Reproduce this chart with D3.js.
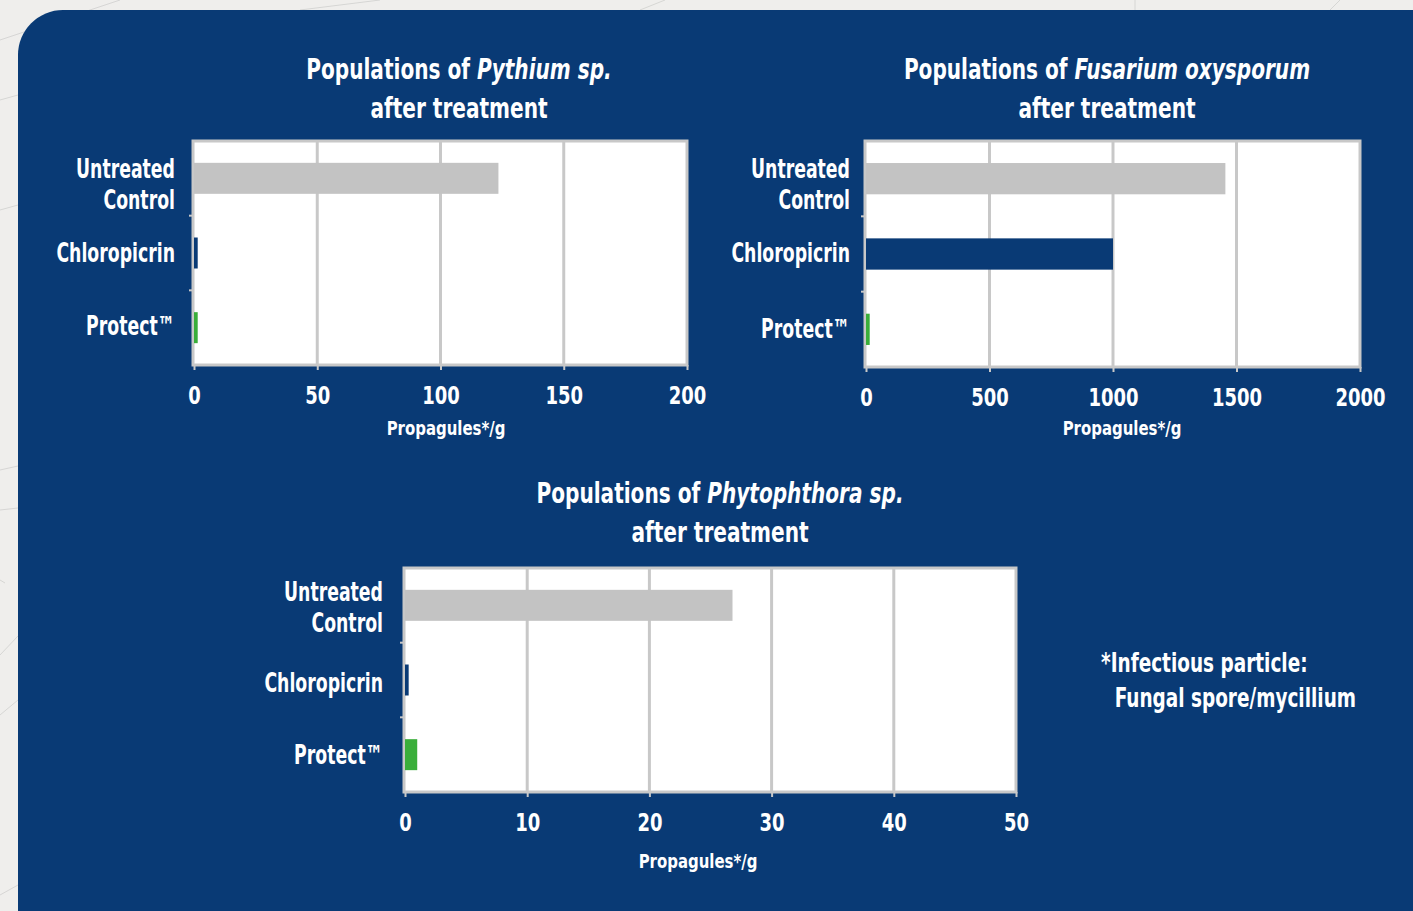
<!DOCTYPE html>
<html>
<head>
<meta charset="utf-8">
<script src="https://cdn.jsdelivr.net/npm/d3@7"></script>
<style>
  html, body { margin: 0; padding: 0; background: #efeeec; }
  svg { display: block; }
  text { font-family: "DejaVu Sans Condensed", "DejaVu Sans", sans-serif; font-weight: bold; fill: #fff; }
</style>
</head>
<body>
<svg id="chart" width="1413" height="911"></svg>
<script>
// categories (same for all three charts)
const categories = ["Untreated Control", "Chloropicrin", "Protect™"];
const categoryLines = [["Untreated", "Control"], ["Chloropicrin"], ["Protect™"]];
const barColors = ["#c3c3c3", "#093a75", "#3aae3a"];

// propagules per gram
const pythiumValues = [123.5, 1.5, 1.5];
const fusariumValues = [1455, 1000, 15];
const phytophthoraValues = [26.8, 0.3, 1.0];

// tick labels
const pythiumTicks = [0, 50, 100, 150, 200];
const fusariumTicks = [0, 500, 1000, 1500, 2000];
const phytophthoraTicks = [0, 10, 20, 30, 40, 50];

const svg = d3.select("#chart");
const blue = "#093a75";
const grid = "#c8c8c8";

// faint decorative lines on the grey page
const deco = [[0, 40, 120, 0], [0, 100, 18, 95], [0, 210, 18, 205], [0, 470, 18, 466],
  [0, 510, 18, 508], [0, 580, 5, 583], [0, 655, 18, 636], [0, 715, 18, 700], [0, 895, 18, 885],
  [300, 10, 380, 0], [640, 10, 665, 0], [1135, 10, 1135, 0], [1330, 10, 1340, 0]];
svg.selectAll("line.deco").data(deco).enter().append("line")
  .attr("x1", d => d[0]).attr("y1", d => d[1]).attr("x2", d => d[2]).attr("y2", d => d[3])
  .attr("stroke", "#d6d6d4").attr("stroke-width", 1);

// blue panel with rounded top-left corner
const r = 45;
svg.append("path")
  .attr("d", `M18,${10 + r} A${r},${r} 0 0 1 ${18 + r},10 L1413,10 L1413,911 L18,911 Z`)
  .attr("fill", blue);

// text squeezed horizontally to look like the condensed face of the original
function addText(parent, x, y, anchor, size, sx) {
  return parent.append("g").attr("transform", `translate(${x},${y}) scale(${sx},1)`)
    .append("text").attr("text-anchor", anchor).style("font-size", size + "px");
}

// draws one horizontal bar chart
function drawChart(opt) {
  const g = svg.append("g");
  const x = d3.scaleLinear().domain([0, opt.ticks[opt.ticks.length - 1]]).range([opt.x0, opt.x1]);
  const y = d3.scaleBand().domain(categories).range([opt.y0, opt.y1])
    .paddingInner(0.585).paddingOuter(0.2925);

  g.append("rect")
    .attr("x", opt.x0 - 1).attr("y", opt.y0)
    .attr("width", opt.x1 - opt.x0 + 1).attr("height", opt.y1 - opt.y0)
    .attr("fill", "#fff").attr("stroke", grid).attr("stroke-width", 3);

  // vertical grid lines
  g.selectAll("line.grid").data(opt.ticks.slice(1, -1)).enter().append("line")
    .attr("x1", d => x(d)).attr("x2", d => x(d))
    .attr("y1", opt.y0).attr("y2", opt.y1)
    .attr("stroke", grid).attr("stroke-width", 3);

  // category tick marks between bands
  const bounds = categories.slice(1).map(c => y(c) - y.step() * y.paddingInner() / 2);
  g.selectAll("line.ytick").data(bounds).enter().append("line")
    .attr("x1", opt.x0 - 5).attr("x2", opt.x0).attr("y1", d => d).attr("y2", d => d)
    .attr("stroke", grid).attr("stroke-width", 2);

  // bars
  g.selectAll("rect.bar").data(opt.values).enter().append("rect")
    .attr("x", x(0))
    .attr("y", (d, i) => y(categories[i]))
    .attr("width", d => x(d) - x(0))
    .attr("height", y.bandwidth())
    .attr("fill", (d, i) => barColors[i]);

  // x axis
  const ax = g.append("g").attr("transform", `translate(0,${opt.y1})`)
    .call(d3.axisBottom(x).tickValues(opt.ticks).tickFormat(d3.format("d"))
      .tickSize(5).tickSizeOuter(0).tickPadding(16));
  ax.select(".domain").remove();
  ax.selectAll(".tick line").attr("stroke", grid).attr("stroke-width", 2);
  ax.selectAll(".tick text").attr("fill", "#fff")
    .attr("transform", "scale(0.8,1)")
    .style("font-family", "'DejaVu Sans Condensed', sans-serif")
    .style("font-weight", "bold").style("font-size", "25px");

  addText(g, opt.axisTitleX, opt.axisTitleY, "middle", 20, 0.83).text("Propagules*/g");

  // category labels
  categoryLines.forEach((lines, i) => {
    const cy = y(categories[i]) + y.bandwidth() / 2 + opt.labelShift[i];
    const t = addText(g, opt.x0 - opt.labelGap, cy, "end", 26, 0.74);
    lines.forEach((ln, k) => {
      t.append("tspan").attr("x", 0)
        .attr("y", 9 + (k - (lines.length - 1) / 2) * 31 + (lines.length > 1 ? 6 : 0))
        .text(ln);
    });
  });

  // title
  const title = addText(g, opt.titleX, opt.titleY, "middle", 29, 0.77);
  const l1 = title.append("tspan").attr("x", 0).attr("y", 0);
  l1.append("tspan").text("Populations of ");
  l1.append("tspan").style("font-style", "italic").text(opt.species);
  title.append("tspan").attr("x", 0).attr("y", 39).text("after treatment");
}

drawChart({ values: pythiumValues, ticks: pythiumTicks, species: "Pythium sp.",
  x0: 194, x1: 687, y0: 141, y1: 365, titleX: 459, titleY: 79,
  axisTitleX: 446, axisTitleY: 435, labelShift: [0, 0, -2], labelGap: 19 });
drawChart({ values: fusariumValues, ticks: fusariumTicks, species: "Fusarium oxysporum",
  x0: 866, x1: 1360, y0: 141, y1: 367, titleX: 1107, titleY: 79,
  axisTitleX: 1122, axisTitleY: 435, labelShift: [0, -1, 0], labelGap: 16 });
drawChart({ values: phytophthoraValues, ticks: phytophthoraTicks, species: "Phytophthora sp.",
  x0: 405, x1: 1016, y0: 568, y1: 792, titleX: 720, titleY: 503,
  axisTitleX: 698, axisTitleY: 868, labelShift: [-4, 3, 0], labelGap: 22 });

// footnote
const note = addText(svg, 1101, 672, "start", 27, 0.76);
note.append("tspan").attr("x", 0).attr("y", 0).text("*Infectious particle:");
note.append("tspan").attr("x", 18).attr("y", 35).text("Fungal spore/mycillium");
</script>
</body>
</html>
